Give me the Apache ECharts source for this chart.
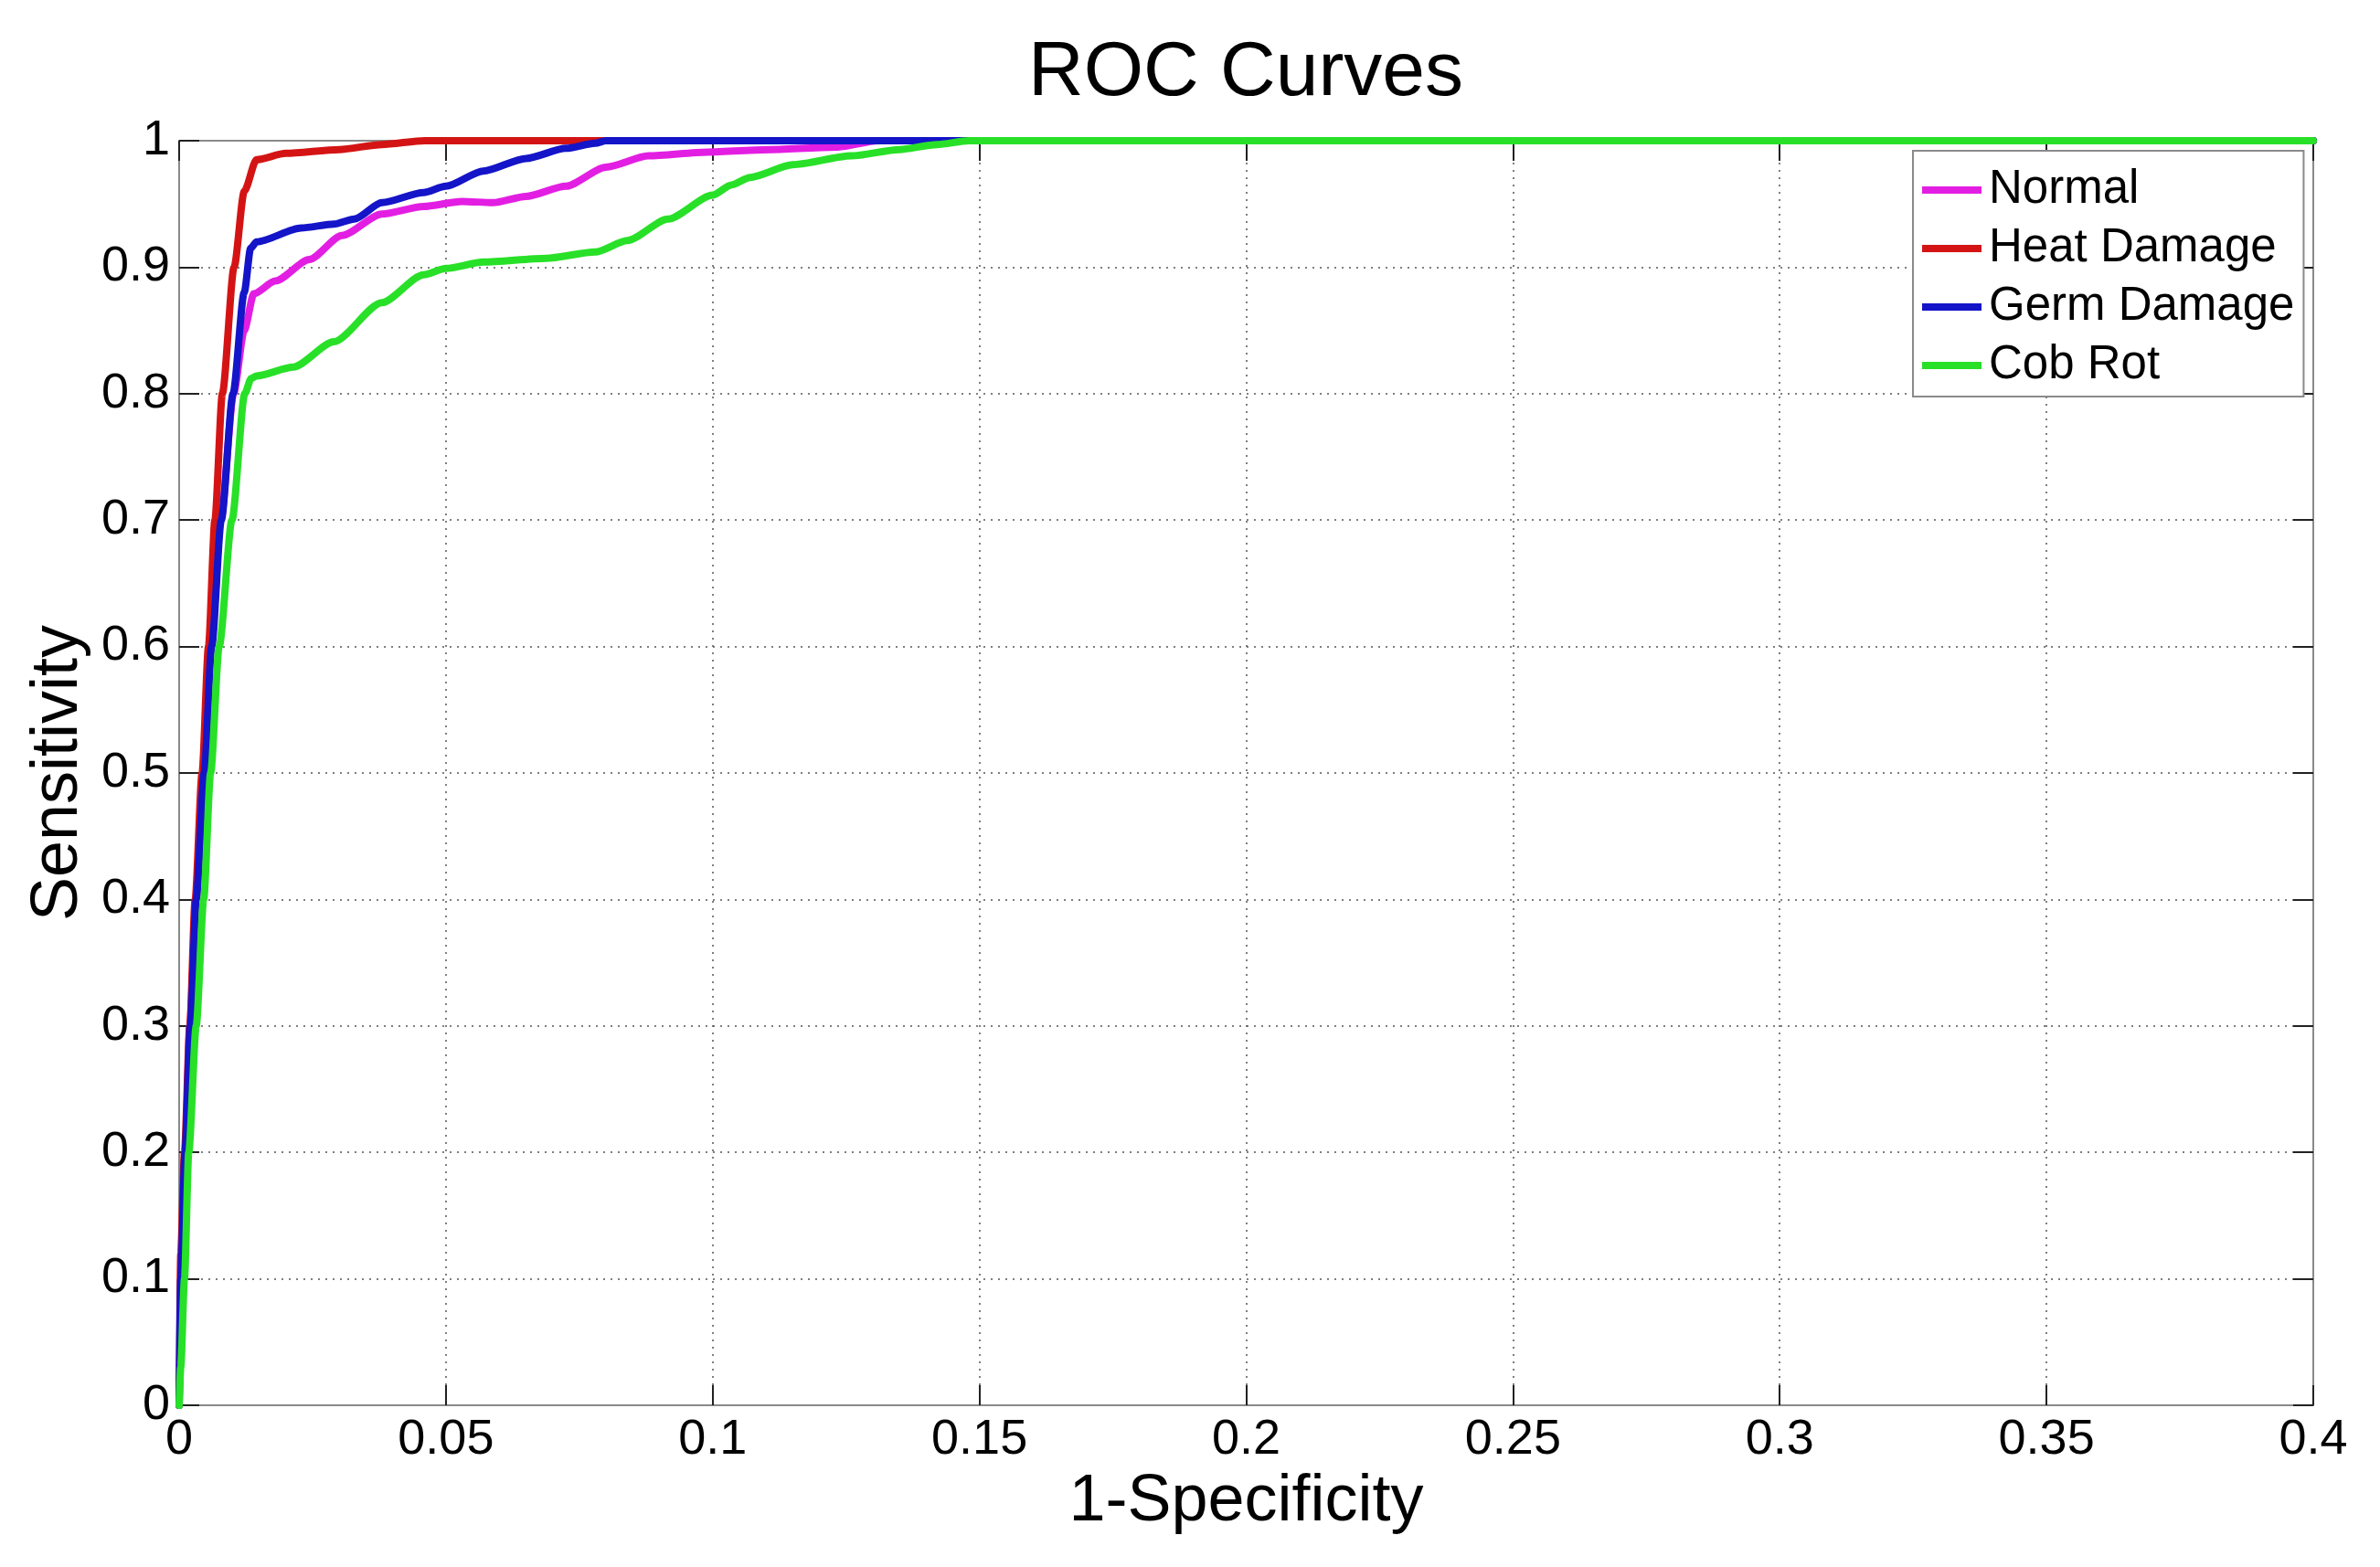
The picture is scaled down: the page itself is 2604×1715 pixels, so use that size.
<!DOCTYPE html>
<html>
<head>
<meta charset="utf-8">
<script src="https://cdn.jsdelivr.net/npm/echarts@6/dist/echarts.min.js"></script>
<style>
html,body{margin:0;padding:0;background:#fff;}
#chart{width:2604px;height:1715px;}
</style>
</head>
<body>
<div id="chart"></div>
<script>
// ---- Data ----
var seriesNames = ['Normal', 'Heat Damage', 'Germ Damage', 'Cob Rot'];
var seriesColors = ['#e31ee3', '#d41414', '#1414c8', '#28e028'];

var normalFpr = [0, 0.0005, 0.0012, 0.002, 0.0032, 0.0046, 0.006, 0.0078, 0.0102, 0.0122, 0.014, 0.018, 0.0244, 0.0305, 0.038, 0.0458, 0.053, 0.0588, 0.065, 0.0725, 0.080, 0.088, 0.099, 0.111, 0.1235, 0.131, 0.4];
var normalTpr = [0, 0.1, 0.2, 0.3, 0.4, 0.5, 0.6, 0.7, 0.8, 0.85, 0.879, 0.889, 0.906, 0.925, 0.942, 0.948, 0.952, 0.951, 0.956, 0.964, 0.979, 0.988, 0.991, 0.993, 0.995, 1.0, 1.0];

var heatFpr = [0, 0.0003, 0.001, 0.002, 0.003, 0.0043, 0.0055, 0.0067, 0.0081, 0.0103, 0.0122, 0.0145, 0.02, 0.03, 0.038, 0.046, 0.4];
var heatTpr = [0, 0.12, 0.2, 0.3, 0.4, 0.5, 0.6, 0.7, 0.8, 0.9, 0.96, 0.985, 0.99, 0.993, 0.997, 1.0, 1.0];

var germFpr = [0, 0.0003, 0.0011, 0.0021, 0.0032, 0.0047, 0.0061, 0.0079, 0.0101, 0.0122, 0.0134, 0.0145, 0.0229, 0.029, 0.0328, 0.038, 0.0458, 0.050, 0.057, 0.065, 0.0725, 0.078, 0.080, 0.4];
var germTpr = [0, 0.1, 0.2, 0.3, 0.4, 0.5, 0.6, 0.7, 0.8, 0.88, 0.915, 0.92, 0.931, 0.934, 0.938, 0.951, 0.959, 0.964, 0.976, 0.986, 0.994, 0.998, 1.0, 1.0];

var cobFpr = [0, 0.0003, 0.001, 0.0018, 0.0032, 0.0046, 0.0059, 0.0075, 0.0099, 0.0123, 0.0135, 0.0145, 0.0214, 0.029, 0.038, 0.0458, 0.050, 0.057, 0.0687, 0.078, 0.084, 0.0916, 0.1, 0.1035, 0.107, 0.115, 0.126, 0.135, 0.142, 0.148, 0.4];
var cobTpr = [0, 0.03, 0.1, 0.2, 0.3, 0.4, 0.5, 0.6, 0.7, 0.8, 0.812, 0.814, 0.821, 0.841, 0.872, 0.894, 0.899, 0.904, 0.907, 0.912, 0.921, 0.938, 0.957, 0.965, 0.971, 0.981, 0.988, 0.993, 0.997, 1.0, 1.0];

var xTickLabels = ['0', '0.05', '0.1', '0.15', '0.2', '0.25', '0.3', '0.35', '0.4'];
var yTickLabels = ['0', '0.1', '0.2', '0.3', '0.4', '0.5', '0.6', '0.7', '0.8', '0.9', '1'];

var titleText = 'ROC Curves';
var xAxisName = '1-Specificity';
var yAxisName = 'Sensitivity';

// ---- Build ----
function pairs(xs, ys) { return xs.map(function (x, i) { return [x, ys[i]]; }); }
var allX = [normalFpr, heatFpr, germFpr, cobFpr];
var allY = [normalTpr, heatTpr, germTpr, cobTpr];

var FONT = '"Liberation Sans", Arial, sans-serif';
var gridLine = { show: true, lineStyle: { type: [2, 6], color: '#555', width: 1.5 } };
var tick = { show: true, inside: true, length: 22, lineStyle: { color: '#222', width: 2 } };
var axLine = { show: true, onZero: false, lineStyle: { color: '#8a8a8a', width: 2 } };

var chart = echarts.init(document.getElementById('chart'), null, { renderer: 'canvas' });
chart.setOption({
  backgroundColor: '#ffffff',
  animation: false,
  title: {
    text: titleText,
    left: 1125,
    top: 39,
    padding: 0,
    textStyle: { fontFamily: FONT, fontSize: 84, fontWeight: 'normal', color: '#000' }
  },
  legend: {
    data: seriesNames,
    orient: 'vertical',
    left: 2093,
    top: 165,
    padding: [15, 10, 6, 10],
    itemGap: 8,
    itemWidth: 65,
    itemHeight: 8,
    icon: 'rect',
    backgroundColor: '#ffffff',
    borderColor: '#8a8a8a',
    borderWidth: 2,
    borderRadius: 0,
    textStyle: { fontFamily: FONT, fontSize: 51, color: '#000', lineHeight: 56, padding: [0, 0, 0, 3] }
  },
  grid: { left: 196, right: 73, top: 154, bottom: 177, containLabel: false },
  xAxis: [{
    type: 'value', min: 0, max: 0.4, interval: 0.05, position: 'bottom',
    name: xAxisName, nameLocation: 'middle', nameGap: 63,
    nameTextStyle: { fontFamily: FONT, fontSize: 72, color: '#000' },
    axisLine: axLine, axisTick: tick, splitLine: gridLine,
    axisLabel: { margin: 11, fontFamily: FONT, fontSize: 54, color: '#000',
      formatter: function (v) { return xTickLabels[Math.round(v / 0.05)]; } }
  }, {
    type: 'value', min: 0, max: 0.4, interval: 0.05, position: 'top',
    axisLine: axLine, axisTick: tick, splitLine: { show: false }, axisLabel: { show: false }
  }],
  yAxis: [{
    type: 'value', min: 0, max: 1, interval: 0.1, position: 'left',
    name: yAxisName, nameLocation: 'middle', nameGap: 87, nameRotate: 90,
    nameTextStyle: { fontFamily: FONT, fontSize: 72, color: '#000' },
    axisLine: axLine, axisTick: tick, splitLine: gridLine,
    axisLabel: { margin: 10, fontFamily: FONT, fontSize: 54, color: '#000',
      formatter: function (v) { return yTickLabels[Math.round(v / 0.1)]; } }
  }, {
    type: 'value', min: 0, max: 1, interval: 0.1, position: 'right',
    axisLine: axLine, axisTick: tick, splitLine: { show: false }, axisLabel: { show: false }
  }],
  series: seriesNames.map(function (name, i) {
    return {
      name: name, type: 'line', xAxisIndex: 0, yAxisIndex: 0,
      data: pairs(allX[i], allY[i]),
      showSymbol: false, symbol: 'none', clip: false,
      smooth: 0.25, smoothMonotone: 'x',
      lineStyle: { color: seriesColors[i], width: 8, join: 'round', cap: 'round' },
      itemStyle: { color: seriesColors[i] },
      z: 3 + i
    };
  })
});
</script>
</body>
</html>
